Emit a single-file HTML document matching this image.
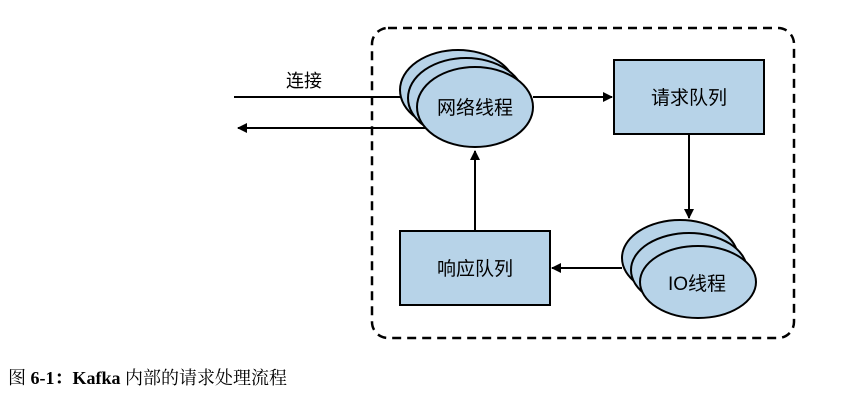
<!DOCTYPE html>
<html><head><meta charset="utf-8"><style>
body{margin:0;background:#fff;width:866px;height:402px;overflow:hidden;position:relative}
.cap{position:absolute;left:8px;top:364px;font-family:"Liberation Serif","Noto Serif CJK SC",serif;font-size:18px;color:#000;white-space:nowrap}
</style></head><body>
<svg width="866" height="402" style="position:absolute;left:0;top:0" font-family="Liberation Sans, Noto Sans CJK SC, sans-serif">
<defs><marker id="a" markerWidth="10" markerHeight="10" refX="9" refY="5" orient="auto" markerUnits="userSpaceOnUse"><path d="M0,0 L10,5 L0,10 z" fill="#000"/></marker></defs>
<rect x="372" y="28" width="422" height="310" rx="16" fill="none" stroke="#000" stroke-width="2.5" stroke-dasharray="9,6"/>
<line x1="234" y1="97" x2="420" y2="97" stroke="#000" stroke-width="2"/>
<text x="286" y="87" font-size="18">连接</text>
<line x1="430" y1="128" x2="238" y2="128" stroke="#000" stroke-width="2" marker-end="url(#a)"/>
<g fill="#b7d3e8" stroke="#000" stroke-width="2">
<ellipse cx="458" cy="90" rx="58" ry="40"/>
<ellipse cx="466" cy="98" rx="58" ry="40"/>
<ellipse cx="475" cy="107" rx="58" ry="40"/>
</g>
<text x="475" y="114" font-size="19" text-anchor="middle">网络线程</text>
<line x1="533" y1="97" x2="612" y2="97" stroke="#000" stroke-width="2" marker-end="url(#a)"/>
<rect x="614" y="60" width="150" height="74" fill="#b7d3e8" stroke="#000" stroke-width="2"/>
<text x="689" y="104" font-size="19" text-anchor="middle">请求队列</text>
<line x1="689" y1="134" x2="689" y2="218" stroke="#000" stroke-width="2" marker-end="url(#a)"/>
<g fill="#b7d3e8" stroke="#000" stroke-width="2">
<ellipse cx="680" cy="258" rx="58" ry="38"/>
<ellipse cx="689" cy="270" rx="58" ry="37"/>
<ellipse cx="698" cy="282" rx="58" ry="36"/>
</g>
<text x="697" y="290" font-size="19" text-anchor="middle">IO线程</text>
<line x1="622" y1="268" x2="552" y2="268" stroke="#000" stroke-width="2" marker-end="url(#a)"/>
<rect x="400" y="231" width="150" height="74" fill="#b7d3e8" stroke="#000" stroke-width="2"/>
<text x="475" y="275" font-size="19" text-anchor="middle">响应队列</text>
<line x1="475" y1="231" x2="475" y2="151" stroke="#000" stroke-width="2" marker-end="url(#a)"/>
</svg>
<div class="cap">图 <b>6-1：Kafka</b> 内部的请求处理流程</div>
</body></html>
